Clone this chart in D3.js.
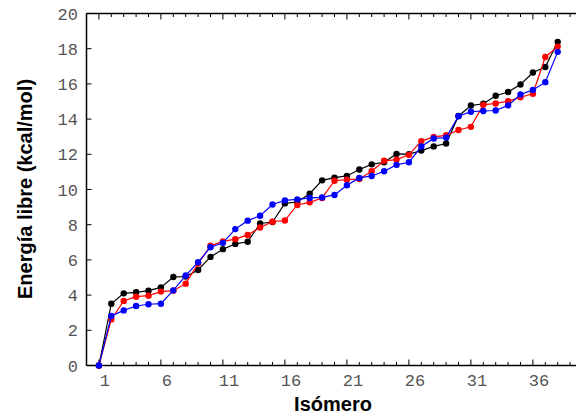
<!doctype html>
<html lang="es">
<head>
<meta charset="UTF-8" />
<title>Energía libre por isómero</title>
<script src="https://d3js.org/d3.v7.min.js"></script>
<style>
  html, body { margin: 0; padding: 0; background: #fff; }
  svg { display: block; }
  .tick-label { font-family: "Liberation Mono", "DejaVu Sans Mono", monospace; font-size: 17px; fill: #555; }
  .axis-title { font-family: "Liberation Sans", Arial, sans-serif; font-size: 20px; font-weight: bold; fill: #000; }
</style>
</head>
<body>
<svg id="chart" width="576" height="416"></svg>
<script>
// isómero 1..38
const isomeros = d3.range(1, 39);
const serieNegra = [0, 3.51, 4.10, 4.16, 4.25, 4.44, 5.03, 5.05, 5.43, 6.17,
  6.61, 6.91, 7.03, 8.07, 8.15, 9.21, 9.29, 9.76, 10.52, 10.67,
  10.77, 11.14, 11.43, 11.55, 12.02, 12.01, 12.21, 12.45, 12.61, 14.18,
  14.77, 14.87, 15.33, 15.54, 15.97, 16.65, 16.96, 18.39];
const serieRoja = [0, 2.62, 3.67, 3.91, 3.97, 4.20, 4.25, 4.65, 5.79, 6.80,
  7.05, 7.18, 7.42, 7.84, 8.17, 8.24, 9.12, 9.27, 9.52, 10.50,
  10.56, 10.60, 11.04, 11.63, 11.70, 11.97, 12.75, 12.99, 13.08, 13.38,
  13.56, 14.81, 14.89, 15.02, 15.24, 15.44, 17.53, 18.12];
const serieAzul = [0, 2.81, 3.13, 3.38, 3.48, 3.51, 4.27, 5.11, 5.87, 6.72,
  6.97, 7.75, 8.23, 8.51, 9.15, 9.38, 9.44, 9.52, 9.55, 9.69,
  10.24, 10.66, 10.77, 11.04, 11.40, 11.55, 12.44, 12.90, 12.95, 14.16,
  14.42, 14.46, 14.49, 14.78, 15.40, 15.66, 16.10, 17.82];
const xMajor = [1, 6, 11, 16, 21, 26, 31, 36];
const yTicks = [0, 2, 4, 6, 8, 10, 12, 14, 16, 18, 20];

const series = [
  { values: serieNegra, color: "#000000" },
  { values: serieRoja, color: "#ff0000" },
  { values: serieAzul, color: "#0000ff" }
];

const svg = d3.select("#chart");
const x = d3.scaleLinear().domain([0, 40]).range([86.5, 582.5]);
const y = d3.scaleLinear().domain([0, 20]).range([365.5, 13.5]);

const frame = svg.append("g");
// left, bottom and top lines of the box
frame.append("line").attr("x1", x(0)).attr("x2", x(0)).attr("y1", y(20)).attr("y2", y(0))
  .attr("stroke", "#000").attr("stroke-width", 1.5);
frame.append("line").attr("x1", x(0)).attr("x2", 576).attr("y1", y(0)).attr("y2", y(0))
  .attr("stroke", "#000").attr("stroke-width", 1.5);
frame.append("line").attr("x1", x(0)).attr("x2", 576).attr("y1", y(20)).attr("y2", y(20))
  .attr("stroke", "#000").attr("stroke-width", 1.5);

// x ticks, bottom and top, pointing inward
const xMinor = d3.range(1, 40);
xMinor.forEach(v => {
  const len = xMajor.includes(v) ? 6 : 3.5;
  frame.append("line").attr("x1", x(v)).attr("x2", x(v))
    .attr("y1", y(0)).attr("y2", y(0) - len).attr("stroke", "#000").attr("stroke-width", 1);
  frame.append("line").attr("x1", x(v)).attr("x2", x(v))
    .attr("y1", y(20)).attr("y2", y(20) + len).attr("stroke", "#000").attr("stroke-width", 1);
});
frame.selectAll(".xl").data(xMajor).join("text")
  .attr("class", "tick-label")
  .attr("x", d => x(d) + 6).attr("y", 386)
  .attr("text-anchor", "middle")
  .text(d => d);

// y ticks
yTicks.forEach(v => {
  frame.append("line").attr("x1", x(0)).attr("x2", x(0) + 5)
    .attr("y1", y(v)).attr("y2", y(v)).attr("stroke", "#000").attr("stroke-width", 1);
});
frame.selectAll(".yl").data(yTicks).join("text")
  .attr("class", "tick-label")
  .attr("x", 78).attr("y", d => y(d) + 6)
  .attr("text-anchor", "end")
  .text(d => d);

// series: black first, blue on top
const line = d3.line().x((d, i) => x(isomeros[i])).y(d => y(d));
series.forEach(s => {
  svg.append("path").datum(s.values)
    .attr("d", line).attr("fill", "none")
    .attr("stroke", s.color).attr("stroke-width", 1.2);
  svg.append("g").selectAll("circle").data(s.values).join("circle")
    .attr("cx", (d, i) => x(isomeros[i])).attr("cy", d => y(d))
    .attr("r", 3.2).attr("fill", s.color);
});

svg.append("text").attr("class", "axis-title")
  .attr("x", 333).attr("y", 411).attr("text-anchor", "middle")
  .text("Isómero");
svg.append("text").attr("class", "axis-title")
  .attr("transform", "translate(32,189) rotate(-90)")
  .attr("text-anchor", "middle")
  .text("Energía libre (kcal/mol)");
</script>
</body>
</html>
